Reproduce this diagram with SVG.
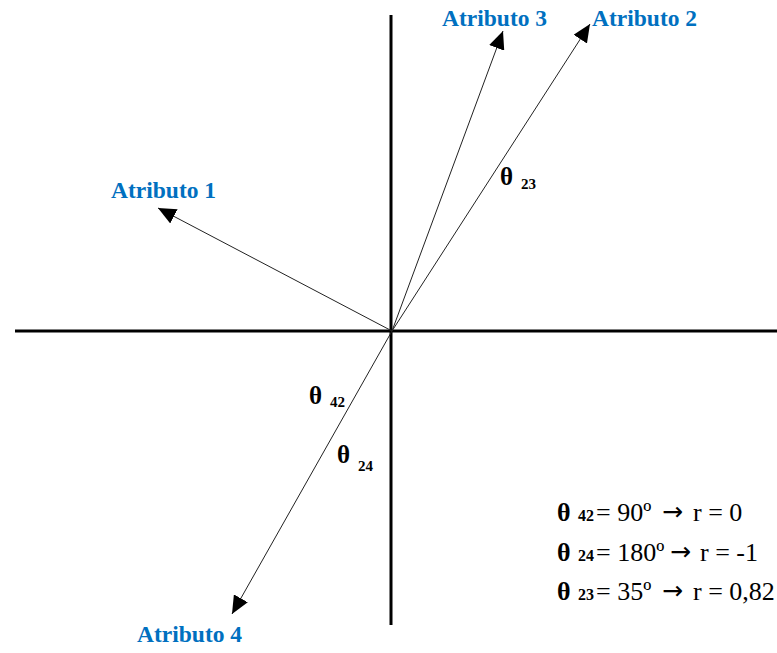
<svg xmlns="http://www.w3.org/2000/svg" width="777" height="653" viewBox="0 0 777 653">
<style>
.lbl{font-family:"Liberation Serif","Times New Roman",serif;font-weight:bold;font-size:23.5px;fill:#0070C0}
.th{font-family:"Liberation Serif","Times New Roman",serif;font-weight:bold;font-size:25px;fill:#000}
.thl{font-family:"Liberation Serif","Times New Roman",serif;font-weight:bold;font-size:26px;fill:#000}
.sub{font-family:"Liberation Serif","Times New Roman",serif;font-weight:bold;font-size:15px;fill:#000}
.subl{font-family:"Liberation Serif","Times New Roman",serif;font-weight:bold;font-size:16px;fill:#000}
.eq{font-family:"Liberation Serif","Times New Roman",serif;font-size:26px;fill:#000}
.arr{font-family:"DejaVu Sans",sans-serif;font-size:25px;fill:#000}
.axis{stroke:#000;stroke-width:3;fill:none}
.vec{stroke:#222;stroke-width:1;fill:none;marker-end:url(#ah)}
</style>
<defs>
<marker id="ah" markerUnits="userSpaceOnUse" markerWidth="20" markerHeight="16" refX="18" refY="8" orient="auto">
<path d="M0,0 L18,8 L0,16 Z" fill="#000"/>
</marker>
</defs>
<rect width="777" height="653" fill="#fff"/>
<g id="axes">
<line class="axis" x1="391" y1="15" x2="391" y2="625"/>
<line class="axis" x1="15" y1="331" x2="777" y2="331"/>
</g>
<g id="connectors">
<line class="vec" x1="392" y1="331" x2="158" y2="208"/>
<line class="vec" x1="392" y1="331" x2="503" y2="31"/>
<line class="vec" x1="392" y1="331" x2="590" y2="24"/>
<line class="vec" x1="392" y1="331" x2="232" y2="614"/>
</g>
<g id="atributo1"><text class="lbl" x="111" y="198">Atributo 1</text></g>
<g id="atributo2"><text class="lbl" x="592" y="26">Atributo 2</text></g>
<g id="atributo3"><text class="lbl" x="442" y="26">Atributo 3</text></g>
<g id="atributo4"><text class="lbl" x="137" y="642">Atributo 4</text></g>
<g id="theta23"><text class="th" x="500" y="185">θ</text><text class="sub" x="521" y="189">23</text></g>
<g id="theta42"><text class="th" x="309" y="404">θ</text><text class="sub" x="330" y="407">42</text></g>
<g id="theta24"><text class="th" x="337" y="463">θ</text><text class="sub" x="358" y="471">24</text></g>
<g id="legend">
<text class="thl" x="557" y="521">θ</text><text class="subl" x="578" y="521">42</text>
<text class="eq" x="596" y="521">= 90º</text><text class="arr" x="662" y="520">→</text><text class="eq" x="693" y="521">r = 0</text>
<text class="thl" x="557" y="561">θ</text><text class="subl" x="578" y="561">24</text>
<text class="eq" x="596" y="561">= 180º</text><text class="arr" x="670" y="560">→</text><text class="eq" x="700" y="561">r = -1</text>
<text class="thl" x="557" y="600">θ</text><text class="subl" x="578" y="600">23</text>
<text class="eq" x="596" y="600">= 35º</text><text class="arr" x="662" y="599">→</text><text class="eq" x="693" y="600">r = 0,82</text>
</g>
</svg>
